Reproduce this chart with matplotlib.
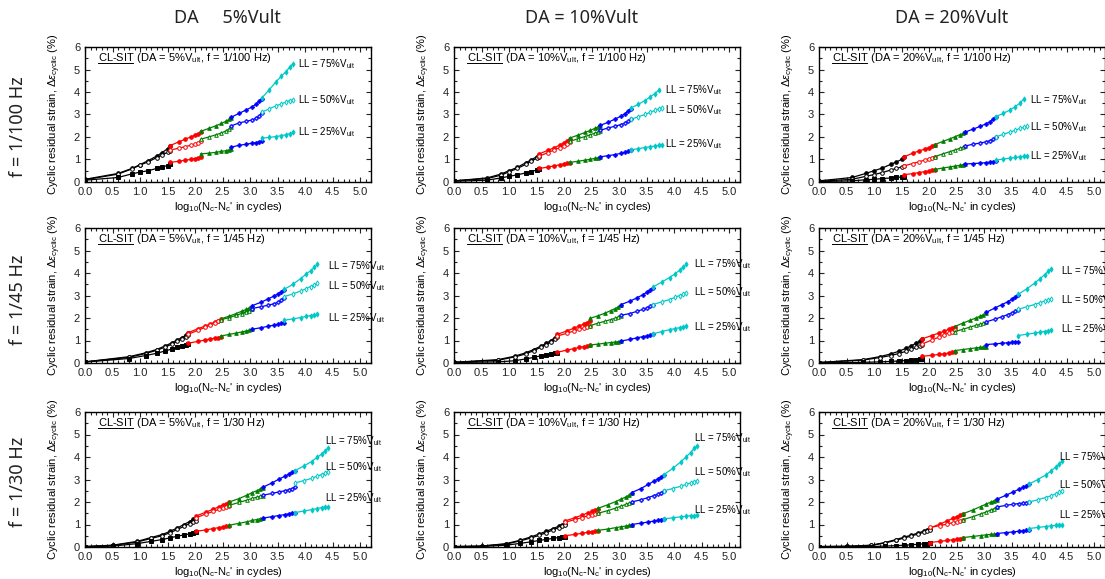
import matplotlib.pyplot as plt
from matplotlib.ticker import MultipleLocator

plt.rcParams['font.family'] = ['Liberation Sans', 'DejaVu Sans']
plt.rcParams['mathtext.fontset'] = 'custom'
plt.rcParams['mathtext.rm'] = 'Liberation Sans'
plt.rcParams['mathtext.it'] = 'Liberation Sans:italic'

# ================================
# Stage sampling points, log10(Nc - Nc') per loading stage
# stages: black, red, green, blue, cyan
# ================================
X_F100 = [
    [0.0, 0.6, 0.85, 1.0, 1.15, 1.3, 1.4, 1.5, 1.55],
    [1.55, 1.7, 1.82, 1.92, 2.0, 2.06, 2.1],
    [2.1, 2.25, 2.38, 2.48, 2.56, 2.62, 2.66],
    [2.66, 2.8, 2.93, 3.03, 3.11, 3.17, 3.21],
    [3.21, 3.35, 3.47, 3.57, 3.65, 3.72, 3.78],
]
X_F45 = [
    [0.0, 0.8, 1.1, 1.3, 1.45, 1.58, 1.68, 1.76, 1.83, 1.88],
    [1.88, 2.05, 2.18, 2.28, 2.36, 2.42, 2.47],
    [2.47, 2.62, 2.75, 2.85, 2.93, 2.99, 3.04],
    [3.04, 3.2, 3.33, 3.43, 3.51, 3.57, 3.62],
    [3.62, 3.78, 3.92, 4.02, 4.1, 4.17, 4.22],
]
X_F30 = [
    [0.0, 0.5, 0.95, 1.2, 1.4, 1.55, 1.68, 1.8, 1.9, 1.97, 2.02],
    [2.02, 2.2, 2.33, 2.43, 2.51, 2.57, 2.62],
    [2.62, 2.8, 2.94, 3.04, 3.12, 3.18, 3.23],
    [3.23, 3.4, 3.53, 3.63, 3.71, 3.77, 3.82],
    [3.82, 3.98, 4.12, 4.22, 4.3, 4.37, 4.42],
]

# ================================
# Cyclic residual strain (%) per stage
# ================================
# f = 1/100 Hz
DA5_F100_LL75 = [
    [0.12, 0.38, 0.6, 0.77, 0.95, 1.15, 1.3, 1.48, 1.58],
    [1.62, 1.78, 1.9, 2.0, 2.08, 2.15, 2.2],
    [2.25, 2.38, 2.5, 2.6, 2.7, 2.78, 2.85],
    [2.88, 3.05, 3.2, 3.33, 3.45, 3.58, 3.7],
    [3.72, 4.1, 4.45, 4.7, 4.9, 5.1, 5.25],
]
DA5_F100_LL50 = [
    [0.1, 0.35, 0.58, 0.75, 0.9, 1.08, 1.2, 1.32, 1.38],
    [1.42, 1.5, 1.57, 1.63, 1.68, 1.74, 1.8],
    [1.9, 2.0, 2.1, 2.18, 2.27, 2.36, 2.45],
    [2.5, 2.62, 2.7, 2.75, 2.83, 2.93, 3.05],
    [3.1, 3.25, 3.38, 3.47, 3.55, 3.62, 3.65],
]
DA5_F100_LL25 = [
    [0.08, 0.2, 0.36, 0.44, 0.5, 0.6, 0.67, 0.73, 0.78],
    [0.87, 0.92, 0.97, 1.0, 1.04, 1.08, 1.12],
    [1.25, 1.28, 1.32, 1.36, 1.39, 1.43, 1.47],
    [1.55, 1.63, 1.68, 1.72, 1.75, 1.78, 1.82],
    [1.95, 1.98, 2.02, 2.06, 2.1, 2.15, 2.2],
]
DA10_F100_LL75 = [
    [0.05, 0.18, 0.35, 0.5, 0.65, 0.85, 0.98, 1.12, 1.22],
    [1.25, 1.4, 1.52, 1.64, 1.74, 1.83, 1.9],
    [1.95, 2.08, 2.2, 2.3, 2.38, 2.45, 2.5],
    [2.52, 2.65, 2.8, 2.92, 3.04, 3.15, 3.25],
    [3.28, 3.45, 3.62, 3.78, 3.93, 4.08],
]
DA10_F100_LL50 = [
    [0.05, 0.15, 0.3, 0.45, 0.6, 0.78, 0.92, 1.05, 1.12],
    [1.15, 1.3, 1.42, 1.53, 1.62, 1.7, 1.77],
    [1.8, 1.92, 2.02, 2.1, 2.17, 2.23, 2.28],
    [2.3, 2.4, 2.48, 2.55, 2.62, 2.7, 2.78],
    [2.78, 2.9, 3.0, 3.1, 3.18, 3.25, 3.3],
]
DA10_F100_LL25 = [
    [0.03, 0.08, 0.18, 0.25, 0.32, 0.4, 0.46, 0.53, 0.58],
    [0.6, 0.66, 0.72, 0.76, 0.8, 0.83, 0.86],
    [0.87, 0.92, 0.97, 1.01, 1.05, 1.08, 1.11],
    [1.12, 1.17, 1.22, 1.27, 1.32, 1.37, 1.42],
    [1.43, 1.48, 1.53, 1.57, 1.6, 1.63, 1.65],
]
DA20_F100_LL75 = [
    [0.05, 0.2, 0.38, 0.5, 0.62, 0.78, 0.88, 1.0, 1.09],
    [1.12, 1.28, 1.38, 1.46, 1.53, 1.6, 1.64],
    [1.66, 1.8, 1.92, 2.02, 2.1, 2.16, 2.2],
    [2.22, 2.35, 2.47, 2.58, 2.68, 2.78, 2.87],
    [2.9, 3.05, 3.2, 3.35, 3.5, 3.68],
]
DA20_F100_LL50 = [
    [0.03, 0.12, 0.25, 0.33, 0.42, 0.53, 0.6, 0.67, 0.71],
    [0.72, 0.82, 0.9, 0.97, 1.03, 1.08, 1.13],
    [1.12, 1.25, 1.35, 1.43, 1.5, 1.55, 1.58],
    [1.6, 1.68, 1.73, 1.78, 1.84, 1.9, 1.98],
    [2.0, 2.12, 2.22, 2.3, 2.38, 2.43, 2.47],
]
DA20_F100_LL25 = [
    [0.02, 0.05, 0.1, 0.12, 0.15, 0.18, 0.2, 0.22, 0.24],
    [0.33, 0.37, 0.42, 0.46, 0.49, 0.52, 0.55],
    [0.56, 0.62, 0.67, 0.71, 0.74, 0.77, 0.79],
    [0.8, 0.82, 0.84, 0.86, 0.88, 0.9, 0.92],
    [0.97, 1.02, 1.06, 1.09, 1.12, 1.14, 1.16],
]

# f = 1/45 Hz
DA5_F45_LL75 = [
    [0.05, 0.28, 0.45, 0.6, 0.75, 0.9, 1.03, 1.13, 1.23, 1.32],
    [1.35, 1.52, 1.64, 1.74, 1.82, 1.88, 1.94],
    [1.96, 2.08, 2.2, 2.3, 2.38, 2.45, 2.5],
    [2.55, 2.7, 2.85, 2.97, 3.07, 3.16, 3.23],
    [3.27, 3.5, 3.75, 3.95, 4.1, 4.25, 4.38],
]
DA5_F45_LL50 = [
    [0.05, 0.25, 0.42, 0.56, 0.7, 0.84, 0.96, 1.06, 1.15, 1.24],
    [1.28, 1.45, 1.58, 1.69, 1.78, 1.85, 1.9],
    [1.92, 2.02, 2.12, 2.2, 2.27, 2.33, 2.4],
    [2.42, 2.5, 2.57, 2.63, 2.7, 2.78, 2.88],
    [2.95, 3.07, 3.2, 3.3, 3.4, 3.48, 3.55],
]
DA5_F45_LL25 = [
    [0.04, 0.2, 0.33, 0.43, 0.53, 0.62, 0.7, 0.76, 0.82, 0.86],
    [0.88, 0.96, 1.02, 1.07, 1.1, 1.13, 1.16],
    [1.2, 1.27, 1.33, 1.38, 1.42, 1.46, 1.49],
    [1.5, 1.57, 1.63, 1.68, 1.72, 1.76, 1.8],
    [1.9, 1.96, 2.02, 2.07, 2.11, 2.14, 2.16],
]
DA10_F45_LL75 = [
    [0.03, 0.15, 0.3, 0.45, 0.6, 0.75, 0.88, 1.0, 1.12, 1.22],
    [1.28, 1.42, 1.55, 1.65, 1.73, 1.8, 1.86],
    [1.98, 2.1, 2.22, 2.33, 2.42, 2.5, 2.56],
    [2.6, 2.75, 2.9, 3.03, 3.15, 3.25, 3.35],
    [3.38, 3.6, 3.8, 3.97, 4.12, 4.27, 4.38],
]
DA10_F45_LL50 = [
    [0.03, 0.12, 0.27, 0.4, 0.55, 0.7, 0.82, 0.93, 1.05, 1.15],
    [1.2, 1.32, 1.42, 1.5, 1.56, 1.62, 1.66],
    [1.66, 1.77, 1.86, 1.93, 1.99, 2.05, 2.1],
    [2.12, 2.2, 2.3, 2.38, 2.45, 2.52, 2.58],
    [2.6, 2.72, 2.82, 2.92, 3.0, 3.07, 3.13],
]
DA10_F45_LL25 = [
    [0.02, 0.05, 0.1, 0.18, 0.25, 0.32, 0.37, 0.41, 0.44, 0.46],
    [0.48, 0.57, 0.64, 0.69, 0.73, 0.76, 0.79],
    [0.8, 0.84, 0.88, 0.91, 0.93, 0.95, 0.97],
    [0.98, 1.05, 1.12, 1.17, 1.21, 1.24, 1.27],
    [1.3, 1.4, 1.48, 1.53, 1.57, 1.61, 1.64],
]
DA20_F45_LL75 = [
    [0.02, 0.15, 0.28, 0.4, 0.52, 0.65, 0.77, 0.87, 0.97, 1.05],
    [1.08, 1.22, 1.33, 1.42, 1.5, 1.56, 1.61],
    [1.62, 1.78, 1.9, 2.0, 2.08, 2.15, 2.21],
    [2.25, 2.45, 2.6, 2.72, 2.83, 2.93, 3.02],
    [3.05, 3.3, 3.55, 3.75, 3.92, 4.07, 4.18],
]
DA20_F45_LL50 = [
    [0.02, 0.13, 0.24, 0.33, 0.42, 0.52, 0.61, 0.69, 0.76, 0.82],
    [0.85, 1.02, 1.15, 1.26, 1.34, 1.4, 1.46],
    [1.4, 1.5, 1.6, 1.67, 1.72, 1.77, 1.81],
    [1.83, 1.95, 2.06, 2.15, 2.23, 2.3, 2.36],
    [2.38, 2.5, 2.6, 2.68, 2.75, 2.8, 2.85],
]
DA20_F45_LL25 = [
    [0.01, 0.03, 0.05, 0.07, 0.09, 0.11, 0.13, 0.15, 0.17, 0.19],
    [0.3, 0.34, 0.38, 0.41, 0.44, 0.47, 0.49],
    [0.55, 0.6, 0.64, 0.67, 0.69, 0.71, 0.72],
    [0.82, 0.85, 0.88, 0.9, 0.92, 0.93, 0.95],
    [1.22, 1.28, 1.33, 1.37, 1.4, 1.43, 1.46],
]

# f = 1/30 Hz
DA5_F30_LL75 = [
    [0.02, 0.08, 0.25, 0.42, 0.55, 0.7, 0.85, 1.0, 1.13, 1.23, 1.31],
    [1.38, 1.55, 1.68, 1.78, 1.86, 1.92, 1.98],
    [2.0, 2.15, 2.3, 2.42, 2.5, 2.57, 2.62],
    [2.65, 2.85, 3.02, 3.14, 3.24, 3.32, 3.39],
    [3.4, 3.6, 3.8, 3.98, 4.13, 4.28, 4.4],
]
DA5_F30_LL50 = [
    [0.02, 0.07, 0.22, 0.38, 0.5, 0.64, 0.78, 0.92, 1.04, 1.12, 1.17],
    [1.3, 1.47, 1.58, 1.67, 1.74, 1.79, 1.83],
    [1.85, 1.98, 2.08, 2.16, 2.21, 2.25, 2.28],
    [2.3, 2.38, 2.45, 2.5, 2.55, 2.6, 2.68],
    [2.85, 2.95, 3.05, 3.15, 3.22, 3.3, 3.35],
]
DA5_F30_LL25 = [
    [0.01, 0.04, 0.15, 0.25, 0.33, 0.41, 0.48, 0.54, 0.58, 0.62, 0.65],
    [0.7, 0.76, 0.82, 0.86, 0.89, 0.92, 0.95],
    [0.97, 1.05, 1.12, 1.18, 1.22, 1.25, 1.28],
    [1.28, 1.35, 1.4, 1.44, 1.48, 1.51, 1.53],
    [1.53, 1.6, 1.66, 1.71, 1.75, 1.78, 1.8],
]
DA10_F30_LL75 = [
    [0.02, 0.04, 0.15, 0.3, 0.45, 0.58, 0.7, 0.82, 0.92, 1.0, 1.04],
    [1.16, 1.3, 1.42, 1.51, 1.58, 1.64, 1.68],
    [1.72, 1.88, 2.02, 2.13, 2.22, 2.3, 2.38],
    [2.42, 2.6, 2.78, 2.92, 3.03, 3.12, 3.21],
    [3.22, 3.5, 3.78, 4.0, 4.2, 4.38, 4.5],
]
DA10_F30_LL50 = [
    [0.02, 0.04, 0.13, 0.27, 0.4, 0.52, 0.64, 0.76, 0.86, 0.94, 1.0],
    [1.1, 1.22, 1.31, 1.38, 1.43, 1.46, 1.49],
    [1.5, 1.62, 1.73, 1.82, 1.89, 1.94, 1.98],
    [2.0, 2.1, 2.2, 2.28, 2.35, 2.42, 2.5],
    [2.5, 2.6, 2.7, 2.78, 2.85, 2.9, 2.95],
]
DA10_F30_LL25 = [
    [0.01, 0.02, 0.08, 0.16, 0.23, 0.29, 0.34, 0.38, 0.42, 0.44, 0.46],
    [0.5, 0.56, 0.61, 0.65, 0.68, 0.7, 0.71],
    [0.74, 0.8, 0.86, 0.9, 0.93, 0.96, 0.98],
    [1.0, 1.06, 1.11, 1.15, 1.19, 1.22, 1.24],
    [1.25, 1.3, 1.34, 1.37, 1.39, 1.4, 1.41],
]
DA20_F30_LL75 = [
    [0.02, 0.03, 0.08, 0.2, 0.33, 0.44, 0.53, 0.62, 0.7, 0.76, 0.79],
    [0.85, 1.02, 1.16, 1.27, 1.35, 1.41, 1.46],
    [1.48, 1.65, 1.8, 1.91, 1.99, 2.05, 2.09],
    [2.12, 2.3, 2.45, 2.56, 2.65, 2.72, 2.78],
    [2.8, 3.0, 3.2, 3.38, 3.55, 3.7, 3.82],
]
DA20_F30_LL50 = [
    [0.02, 0.03, 0.07, 0.18, 0.3, 0.4, 0.49, 0.58, 0.65, 0.71, 0.75],
    [0.87, 0.95, 1.02, 1.08, 1.13, 1.16, 1.19],
    [1.22, 1.35, 1.47, 1.56, 1.64, 1.7, 1.76],
    [1.78, 1.85, 1.9, 1.93, 1.95, 1.97, 1.99],
    [2.0, 2.1, 2.2, 2.28, 2.36, 2.44, 2.5],
]
DA20_F30_LL25 = [
    [0.01, 0.01, 0.02, 0.04, 0.06, 0.08, 0.1, 0.12, 0.14, 0.15, 0.16],
    [0.2, 0.25, 0.29, 0.32, 0.35, 0.37, 0.39],
    [0.42, 0.47, 0.51, 0.54, 0.56, 0.57, 0.58],
    [0.6, 0.64, 0.67, 0.7, 0.72, 0.74, 0.75],
    [0.82, 0.87, 0.91, 0.94, 0.96, 0.98, 0.99],
]

# ================================
# Labels
# ================================
DA_LEVELS = ['5', '10', '20']
FREQS = ['1/100', '1/45', '1/30']
COL_TITLES = ['DA     5%Vult', 'DA = 10%Vult', 'DA = 20%Vult']
ROW_TITLES = ['f = 1/100 Hz', 'f = 1/45 Hz', 'f = 1/30 Hz']
LL_NAMES = ['75', '50', '25']

# (label x, [label y for 75 / 50 / 25 %])
LL_LABEL_POS = [
    [(3.88, [5.25, 3.65, 2.2]), (3.83, [4.1, 3.2, 1.69]), (3.83, [3.65, 2.45, 1.15])],
    [(4.42, [4.3, 3.42, 2.0]), (4.37, [4.4, 3.15, 1.6]), (4.4, [4.1, 2.8, 1.5])],
    [(4.37, [4.7, 3.57, 2.19]), (4.37, [4.82, 3.35, 1.65]), (4.37, [4.0, 2.77, 1.43])],
]

STAGE_X = [X_F100, X_F45, X_F30]
CURVES = [
    [[DA5_F100_LL75, DA5_F100_LL50, DA5_F100_LL25],
     [DA10_F100_LL75, DA10_F100_LL50, DA10_F100_LL25],
     [DA20_F100_LL75, DA20_F100_LL50, DA20_F100_LL25]],
    [[DA5_F45_LL75, DA5_F45_LL50, DA5_F45_LL25],
     [DA10_F45_LL75, DA10_F45_LL50, DA10_F45_LL25],
     [DA20_F45_LL75, DA20_F45_LL50, DA20_F45_LL25]],
    [[DA5_F30_LL75, DA5_F30_LL50, DA5_F30_LL25],
     [DA10_F30_LL75, DA10_F30_LL50, DA10_F30_LL25],
     [DA20_F30_LL75, DA20_F30_LL50, DA20_F30_LL25]],
]

STAGE_COLORS = ['black', 'red', 'green', 'blue', '#00c8c8']
STAGE_MARKERS = ['o', 'o', '^', 'P', 'd']

# ================================
# Figure layout (pixels -> figure fraction)
# ================================
W, H = 1105, 579
fig = plt.figure(figsize=(W / 100, H / 100), dpi=100)

col_left = [85, 454, 819]
row_top = [47, 228, 412]
ax_w, ax_h = 286, 135

title_items = []
for r in range(3):
    for c in range(3):
        ax = fig.add_axes([col_left[c] / W, 1 - (row_top[r] + ax_h) / H, ax_w / W, ax_h / H])
        xs = STAGE_X[r]
        for k, ys in enumerate(CURVES[r][c]):
            for s in range(5):
                x = xs[s][:len(ys[s])]
                col = STAGE_COLORS[s]
                mk = 's' if (s == 0 and k == 2) else STAGE_MARKERS[s]
                ax.plot(x, ys[s], color=col, lw=0.9, marker=mk, ms=2.6,
                        mfc='white' if k == 1 else col, mec=col, mew=0.7)

        lx, lys = LL_LABEL_POS[r][c]
        for name, ly in zip(LL_NAMES, lys):
            ax.text(lx, ly, 'LL = ' + name + r'%V$_{\rm ult}$', fontsize=7,
                    va='center', ha='left', clip_on=False)

        ax.set_xlim(0, 5.2)
        ax.set_ylim(0, 6)
        ax.xaxis.set_major_locator(MultipleLocator(0.5))
        ax.xaxis.set_minor_locator(MultipleLocator(0.1))
        ax.yaxis.set_major_locator(MultipleLocator(1))
        ax.yaxis.set_minor_locator(MultipleLocator(0.5))
        ax.xaxis.set_major_formatter(plt.FormatStrFormatter('%.1f'))
        ax.tick_params(which='both', direction='in', top=True, right=True,
                       labelsize=8, colors='#222222', width=0.8)
        ax.tick_params(which='major', length=3.5)
        ax.tick_params(which='minor', length=2)
        for sp in ax.spines.values():
            sp.set_linewidth(1.0)

        ax.set_ylabel(r'Cyclic residual strain, $\Delta\varepsilon_{\rm cyclic}$ (%)', fontsize=8)
        ax.yaxis.set_label_coords(-0.077, 0.5)
        ax.set_xlabel(r"log$_{10}$(N$_{\rm c}$-N$_{\rm c}$' in cycles)", fontsize=8)
        ax.xaxis.set_label_coords(0.5, -0.135)

        # panel caption, "CL-SIT" gets underlined afterwards
        cap = ('CL-SIT (DA = ' + DA_LEVELS[c] + r'%V$_{\rm ult}$, f = ' + FREQS[r] + ' Hz)')
        ax.text(0.045, 0.895, cap, transform=ax.transAxes, fontsize=8,
                va='baseline', ha='left')
        probe = ax.text(0.045, 0.895, 'CL-SIT', transform=ax.transAxes, fontsize=8,
                        va='baseline', ha='left', alpha=0)
        title_items.append((ax, probe))

# column and row headings
col_centers = [227, 582, 952]
for c in range(3):
    fig.text(col_centers[c] / W, 1 - 18 / H, COL_TITLES[c], fontsize=13,
             ha='center', va='center', family=['Noto Sans', 'DejaVu Sans'], color='#222222')
row_centers = [127, 300, 482]
for r in range(3):
    fig.text(18 / W, 1 - row_centers[r] / H, ROW_TITLES[r], fontsize=13, rotation=90,
             ha='center', va='center', family=['Noto Sans', 'DejaVu Sans'], color='#222222')

# underline under "CL-SIT"
fig.canvas.draw()
renderer = fig.canvas.get_renderer()
for ax, probe in title_items:
    bb = probe.get_window_extent(renderer)
    inv = ax.transAxes.inverted()
    x0, _ = inv.transform((bb.x0, 0))
    x1, _ = inv.transform((bb.x1, 0))
    _, yb = inv.transform((0, ax.transAxes.transform((0, 0.895))[1] - 1.8))
    ax.plot([x0, x1], [yb, yb], color='black', lw=0.7, transform=ax.transAxes, clip_on=False)
    probe.remove()

fig.savefig('out.png', dpi=100)
